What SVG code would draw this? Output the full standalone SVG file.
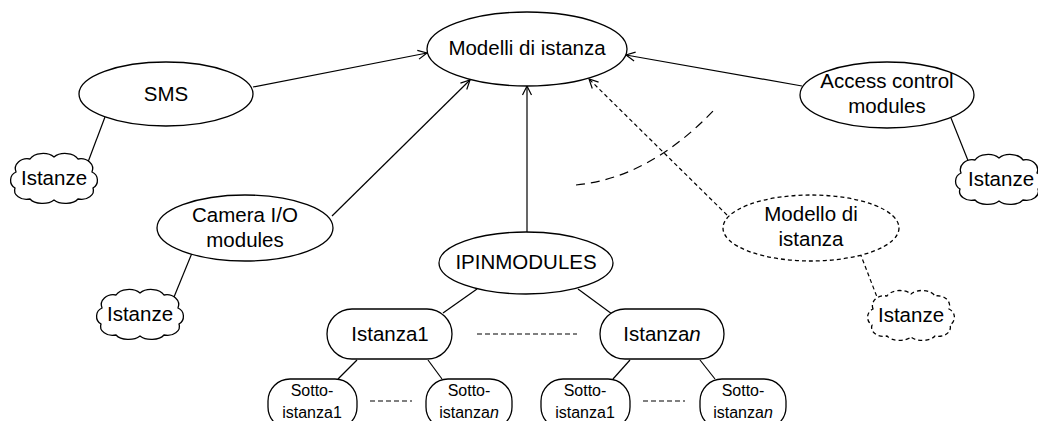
<svg xmlns="http://www.w3.org/2000/svg" width="1038" height="421" viewBox="0 0 1038 421">
<style>
  .shape { fill: #fff; stroke: #000; stroke-width: 1.3; }
  .dash { stroke-dasharray: 4 3; }
  .line { fill: none; stroke: #000; stroke-width: 1.2; }
  .t { font-family: "Liberation Sans", Arial, sans-serif; font-size: 20.5px; fill: #000; text-anchor: middle; }
  .s { font-family: "Liberation Sans", Arial, sans-serif; font-size: 16px; fill: #000; text-anchor: middle; }
</style>
<defs>
  <marker id="arr" markerUnits="userSpaceOnUse" markerWidth="12" markerHeight="12" viewBox="-10 -6 12 12" refX="0" refY="0" orient="auto">
    <path d="M-9,-4.5 L0,0 L-9,4.5" fill="none" stroke="#000" stroke-width="1.2"/>
  </marker>
  <path id="cloud" d="M-38,-6 A12 10 0 0 1 -24,-19 A14 9 0 0 1 0,-21 A14 9 0 0 1 24,-19 A12 10 0 0 1 38,-6 A9 9 0 0 1 39,10 A12 9 0 0 1 24,21 A14 8 0 0 1 0,22 A14 8 0 0 1 -24,21 A12 9 0 0 1 -39,10 A9 9 0 0 1 -38,-6 Z"/>
</defs>

<g id="connectors">
  <line class="line" x1="253" y1="87" x2="427" y2="53" marker-end="url(#arr)"/>
  <line class="line" x1="802" y1="86" x2="626" y2="55" marker-end="url(#arr)"/>
  <line class="line" x1="332" y1="216" x2="470" y2="80" marker-end="url(#arr)"/>
  <line class="line" x1="527" y1="232" x2="527" y2="86" marker-end="url(#arr)"/>
  <line class="line dash" x1="727" y1="215" x2="589" y2="79" marker-end="url(#arr)"/>
  <line class="line" x1="105" y1="117" x2="88" y2="162"/>
  <line class="line" x1="951" y1="118" x2="969" y2="163"/>
  <line class="line" x1="192" y1="253" x2="174" y2="297"/>
  <line class="line dash" x1="860" y1="253" x2="877" y2="297"/>
  <line class="line" x1="477" y1="289" x2="443" y2="313"/>
  <line class="line" x1="578" y1="289" x2="612" y2="314"/>
  <line class="line" x1="357" y1="360" x2="338" y2="379"/>
  <line class="line" x1="428" y1="360" x2="442" y2="379"/>
  <line class="line" x1="630" y1="360" x2="613" y2="379"/>
  <line class="line" x1="700" y1="360" x2="715" y2="379"/>
  <line class="line" x1="477" y1="334" x2="577" y2="334" stroke-dasharray="5 3"/>
  <line class="line" x1="370" y1="401" x2="412" y2="401" stroke-dasharray="5 3"/>
  <line class="line" x1="643" y1="401" x2="685" y2="401" stroke-dasharray="5 3"/>
  <path class="line" d="M576,185 Q650,178 716,108" stroke-dasharray="9 6"/>
</g>

<g id="modelli">
  <ellipse class="shape" cx="527" cy="49" rx="100" ry="37"/>
  <text class="t" x="527" y="55">Modelli di istanza</text>
</g>
<g id="sms">
  <ellipse class="shape" cx="166" cy="94" rx="87" ry="32"/>
  <text class="t" x="166" y="101">SMS</text>
</g>
<g id="sms-istanze">
  <use href="#cloud" class="shape" transform="translate(54,178)"/>
  <text class="t" x="54" y="185">Istanze</text>
</g>
<g id="camera">
  <ellipse class="shape" cx="245" cy="228" rx="88" ry="33"/>
  <text class="t" x="245" y="222">Camera I/O</text>
  <text class="t" x="245" y="247">modules</text>
</g>
<g id="camera-istanze">
  <use href="#cloud" class="shape" transform="translate(140,314)"/>
  <text class="t" x="140" y="321">Istanze</text>
</g>
<g id="access">
  <ellipse class="shape" cx="887" cy="95" rx="87" ry="33"/>
  <text class="t" x="887" y="88">Access control</text>
  <text class="t" x="887" y="113">modules</text>
</g>
<g id="access-istanze">
  <use href="#cloud" class="shape" transform="translate(999,179)"/>
  <text class="t" x="1001" y="186">Istanze</text>
</g>
<g id="modello">
  <ellipse class="shape dash" cx="811" cy="228" rx="88" ry="33"/>
  <text class="t" x="811" y="221">Modello di</text>
  <text class="t" x="811" y="246">istanza</text>
</g>
<g id="modello-istanze">
  <use href="#cloud" class="shape dash" transform="translate(911,315)"/>
  <text class="t" x="911" y="322">Istanze</text>
</g>
<g id="ipinmodules">
  <ellipse class="shape" cx="526" cy="263" rx="87" ry="31"/>
  <text class="t" x="526" y="269">IPINMODULES</text>
</g>
<g id="istanza1">
  <rect class="shape" x="327" y="309" width="125" height="50" rx="25"/>
  <text class="t" x="390" y="341">Istanza1</text>
</g>
<g id="istanzan">
  <rect class="shape" x="600" y="309" width="124" height="50" rx="25"/>
  <text class="t" x="662" y="341">Istanza<tspan font-style="italic">n</tspan></text>
</g>
<g id="sotto1a">
  <rect class="shape" x="268" y="379" width="89" height="50" rx="22"/>
  <text class="s" x="312" y="396">Sotto-</text>
  <text class="s" x="312" y="418">istanza1</text>
</g>
<g id="sotto1n">
  <rect class="shape" x="426" y="379" width="86" height="50" rx="22"/>
  <text class="s" x="469" y="396">Sotto-</text>
  <text class="s" x="469" y="418">istanza<tspan font-style="italic">n</tspan></text>
</g>
<g id="sottona">
  <rect class="shape" x="541" y="379" width="89" height="50" rx="22"/>
  <text class="s" x="585" y="396">Sotto-</text>
  <text class="s" x="585" y="418">istanza1</text>
</g>
<g id="sottonn">
  <rect class="shape" x="700" y="379" width="86" height="50" rx="22"/>
  <text class="s" x="743" y="396">Sotto-</text>
  <text class="s" x="743" y="418">istanza<tspan font-style="italic">n</tspan></text>
</g>
</svg>
